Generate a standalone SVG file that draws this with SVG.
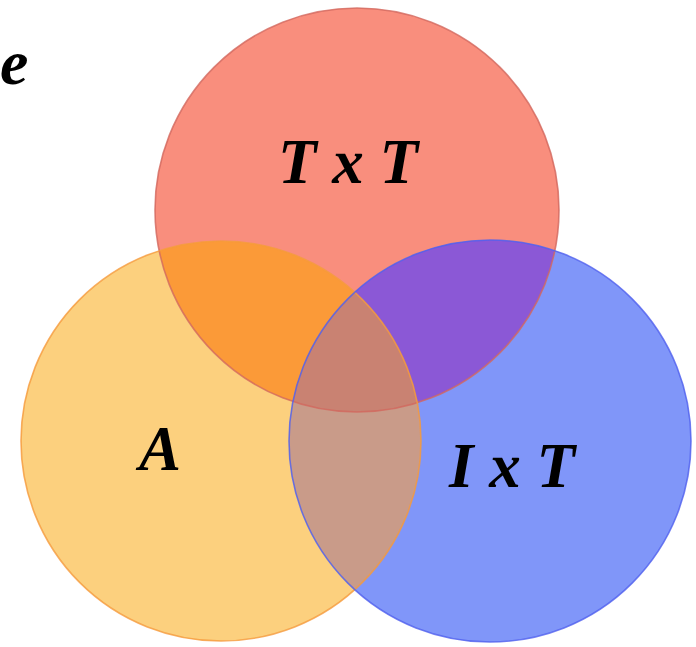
<svg xmlns="http://www.w3.org/2000/svg" width="696" height="647" viewBox="0 0 696 647">
<style>
.lbl{font-family:"Liberation Serif","Times New Roman",serif;font-weight:bold;font-style:italic;font-size:63px;fill:#000;}
.edge{fill:none;stroke-width:1.6;}
</style>
<defs>
<clipPath id="cR"><circle cx="357" cy="210" r="202"/></clipPath>
<clipPath id="cO"><circle cx="221" cy="441" r="200"/></clipPath>
<clipPath id="cB"><circle cx="490" cy="441" r="201"/></clipPath>
</defs>
<rect width="696" height="647" fill="#fff"/>
<text class="lbl" x="0" y="84" style="font-size:64px">e</text>
<g id="node-TxT">
<circle cx="357" cy="210" r="202" fill="#F98E7D"/>
</g>
<g id="node-A">
<circle cx="221" cy="441" r="200" fill="#FCD07E"/>
</g>
<g id="node-IxT">
<circle cx="490" cy="441" r="201" fill="#8096F9"/>
</g>
<g id="overlaps">
<circle cx="221" cy="441" r="200" fill="#FB9A38" clip-path="url(#cR)"/>
<circle cx="490" cy="441" r="201" fill="#8B58D6" clip-path="url(#cR)"/>
<circle cx="490" cy="441" r="201" fill="#C99B89" clip-path="url(#cO)"/>
<g clip-path="url(#cR)"><circle cx="490" cy="441" r="201" fill="#C98272" clip-path="url(#cO)"/></g>
</g>
<g id="outlines">
<circle class="edge" cx="357" cy="210" r="202" stroke="#D2685E" stroke-opacity="0.8"/>
<circle class="edge" cx="221" cy="441" r="200" stroke="#F59A3C" stroke-opacity="0.8"/>
<circle class="edge" cx="490" cy="441" r="201" stroke="#5060EE" stroke-opacity="0.8"/>
</g>
<text class="lbl" x="348" y="183" text-anchor="middle">T x T</text>
<text class="lbl" x="160" y="470" text-anchor="middle">A</text>
<text class="lbl" x="512" y="487" text-anchor="middle">I x T</text>
</svg>
